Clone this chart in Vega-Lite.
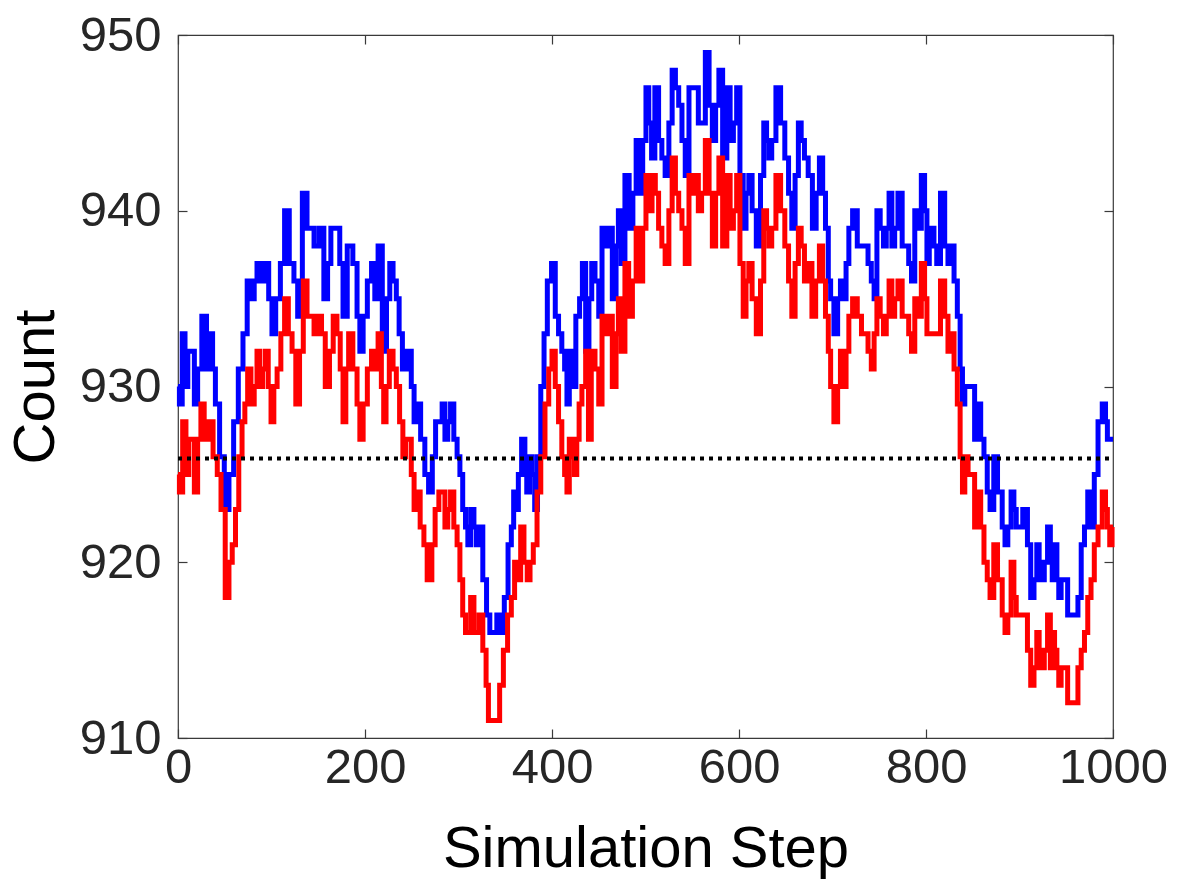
{
  "$schema": "https://vega.github.io/schema/vega-lite/v6.json",
  "width": 935,
  "height": 703,
  "autosize": "none",
  "padding": {"left": 178, "top": 35, "right": 64, "bottom": 146},
  "background": "white",
  "config": {
    "view": {"stroke": "#3a3a3a", "strokeWidth": 1.2},
    "axis": {
      "domain": false,
      "grid": false,
      "labelFlush": false,
      "labelOverlap": false,
      "tickColor": "#3a3a3a",
      "tickWidth": 1.2,
      "tickSize": -9,
      "labelFont": "Liberation Sans",
      "labelFontSize": 49,
      "labelColor": "#262626",
      "titleFont": "Liberation Sans",
      "titleFontSize": 58,
      "titleFontWeight": "normal",
      "titleColor": "#000000"
    }
  },
  "datasets": {
    "blue": [[0,930],[3,929],[6,933],[9,930],[12,932],[16,932],[19,929],[23,931],[28,934],[33,931],[36,933],[38,931],[42,929],[47,926],[52,923],[57,925],[62,928],[67,931],[72,933],[76,936],[80,935],[83,936],[86,937],[91,936],[95,937],[99,935],[102,933],[107,935],[112,937],[116,940],[122,937],[126,936],[130,934],[136,941],[140,939],[143,939],[148,938],[154,939],[158,935],[162,937],[165,939],[171,939],[175,937],[178,934],[184,938],[190,937],[193,934],[196,932],[200,934],[205,936],[209,937],[212,935],[216,938],[221,932],[225,935],[228,937],[232,936],[235,935],[238,933],[242,931],[248,932],[251,930],[254,928],[257,929],[262,927],[266,925],[270,924],[274,926],[277,928],[281,928],[284,929],[287,927],[290,928],[293,929],[297,927],[300,926],[303,925],[306,923],[309,922],[311,921],[315,923],[318,922],[320,921],[324,922],[328,919],[332,917],[335,916],[339,916],[343,917],[347,916],[351,918],[355,921],[358,922],[360,924],[363,923],[365,925],[370,927],[372,925],[374,924],[378,926],[380,925],[383,923],[386,926],[390,930],[393,933],[397,936],[402,937],[405,934],[409,933],[412,932],[415,931],[417,929],[420,932],[423,930],[428,934],[431,935],[434,937],[438,932],[441,935],[444,937],[448,936],[452,934],[455,939],[459,938],[462,939],[467,935],[470,938],[472,940],[476,937],[480,942],[485,939],[488,941],[492,944],[495,941],[499,944],[502,947],[505,945],[508,943],[512,947],[516,944],[519,943],[523,942],[527,945],[530,948],[534,947],[537,946],[541,944],[544,942],[549,947],[555,947],[558,945],[562,945],[566,949],[570,946],[573,944],[577,946],[580,948],[585,943],[589,947],[592,944],[596,945],[599,947],[603,942],[606,939],[609,941],[612,942],[616,940],[621,938],[625,942],[628,945],[631,944],[633,943],[637,944],[642,947],[647,945],[651,943],[655,941],[658,939],[662,942],[665,945],[668,944],[672,943],[676,942],[681,939],[684,941],[688,943],[691,941],[694,939],[697,936],[699,935],[704,933],[707,935],[710,936],[713,935],[716,937],[719,939],[724,940],[729,938],[733,938],[736,938],[740,937],[743,936],[746,935],[749,940],[753,939],[756,938],[759,939],[762,941],[765,938],[768,939],[772,941],[777,938],[780,938],[783,937],[786,936],[790,940],[793,939],[797,942],[800,940],[802,937],[805,938],[807,939],[810,938],[813,937],[818,941],[822,938],[825,937],[828,938],[832,936],[835,934],[838,931],[840,929],[843,930],[847,930],[850,930],[854,927],[857,929],[860,927],[864,926],[867,924],[870,923],[875,926],[878,924],[880,924],[883,922],[886,921],[889,922],[893,924],[895,923],[898,922],[902,922],[905,923],[907,923],[910,921],[914,918],[917,919],[920,921],[922,920],[925,919],[928,920],[932,922],[934,920],[936,919],[939,921],[941,919],[943,918],[946,919],[950,919],[953,917],[957,917],[961,917],[964,918],[968,921],[971,922],[975,924],[978,922],[982,925],[986,928],[991,929],[993,928],[995,927],[1000,927]],
    "red": [[0,925],[3,924],[7,928],[10,925],[13,927],[16,927],[19,924],[23,927],[26,929],[30,927],[35,928],[40,926],[44,925],[48,923],[53,918],[56,920],[60,921],[63,923],[67,926],[70,928],[73,929],[76,931],[80,929],[83,930],[86,932],[89,930],[92,931],[95,932],[98,930],[101,928],[104,930],[108,931],[112,933],[116,935],[120,933],[124,932],[128,929],[132,932],[136,936],[140,934],[143,934],[148,933],[152,934],[155,933],[160,930],[164,932],[168,934],[172,933],[175,931],[178,928],[181,931],[184,933],[190,931],[193,929],[196,927],[200,929],[205,931],[209,932],[212,931],[216,933],[219,930],[221,928],[224,930],[228,932],[232,931],[235,930],[239,928],[242,926],[245,927],[248,927],[251,925],[254,923],[257,924],[261,922],[265,921],[268,919],[270,919],[273,921],[277,923],[281,924],[284,924],[287,922],[290,923],[293,924],[297,922],[300,921],[303,919],[306,917],[309,916],[311,916],[315,918],[318,916],[320,916],[324,917],[328,915],[331,913],[333,911],[337,911],[342,911],[346,913],[350,915],[355,917],[358,918],[362,920],[365,919],[368,922],[372,920],[375,919],[378,920],[382,921],[386,924],[390,926],[395,929],[398,931],[402,932],[405,930],[409,928],[412,926],[415,925],[417,924],[420,927],[423,926],[425,925],[428,927],[430,929],[434,930],[438,932],[440,927],[444,932],[448,931],[452,929],[455,934],[459,933],[462,934],[467,930],[470,933],[472,935],[476,932],[480,937],[484,934],[488,936],[492,939],[495,936],[499,939],[502,942],[505,940],[509,942],[512,941],[516,939],[519,938],[523,937],[527,940],[530,943],[534,941],[537,940],[541,939],[544,937],[549,942],[553,941],[555,942],[558,940],[562,941],[566,944],[570,941],[573,938],[577,941],[580,943],[585,938],[589,942],[592,939],[596,940],[599,942],[603,937],[606,934],[609,936],[612,937],[616,935],[621,933],[625,936],[628,940],[631,939],[633,938],[637,939],[642,942],[647,940],[651,938],[655,936],[658,934],[662,937],[665,939],[668,938],[672,936],[676,937],[680,934],[684,936],[688,938],[691,936],[694,934],[697,932],[699,930],[704,928],[707,930],[710,932],[713,930],[716,932],[719,934],[724,935],[729,934],[733,933],[736,933],[740,932],[743,931],[746,933],[749,935],[753,934],[756,933],[759,934],[762,936],[765,934],[768,935],[772,936],[777,934],[780,934],[783,933],[786,932],[790,935],[793,934],[797,937],[800,935],[802,933],[805,933],[810,933],[813,933],[818,936],[822,934],[825,932],[828,933],[832,931],[835,929],[838,926],[840,924],[843,926],[847,925],[850,925],[854,922],[857,924],[860,922],[864,920],[867,919],[870,918],[875,921],[878,919],[880,919],[883,917],[886,916],[889,917],[893,920],[895,918],[898,917],[902,917],[905,917],[907,917],[910,915],[914,913],[917,914],[920,916],[922,915],[925,914],[928,915],[932,917],[934,914],[936,916],[939,915],[941,914],[943,913],[946,914],[950,914],[953,912],[957,912],[961,912],[964,914],[968,915],[971,916],[975,918],[978,919],[982,921],[986,922],[991,924],[993,923],[995,922],[998,921],[1000,922]]
  },
  "layer": [
    {
      "data": {"name": "blue"},
      "transform": [{"calculate": "datum[0]", "as": "step"}, {"calculate": "datum[1]", "as": "count"}],
      "mark": {"type": "line", "interpolate": "step", "color": "#0000ff", "strokeWidth": 5, "strokeJoin": "miter"},
      "encoding": {
        "x": {"field": "step", "type": "quantitative", "scale": {"domain": [0, 1000], "nice": false},
              "axis": {"orient": "bottom", "values": [0, 200, 400, 600, 800, 1000], "format": "d", "title": "Simulation Step", "labelPadding": 14, "titlePadding": 28}},
        "y": {"field": "count", "type": "quantitative", "scale": {"domain": [910, 950], "nice": false, "zero": false},
              "axis": {"orient": "left", "values": [910, 920, 930, 940, 950], "format": "d", "title": "Count", "labelPadding": 26, "titlePadding": 14}}
      }
    },
    {
      "data": {"name": "red"},
      "transform": [{"calculate": "datum[0]", "as": "step"}, {"calculate": "datum[1]", "as": "count"}],
      "mark": {"type": "line", "interpolate": "step", "color": "#ff0000", "strokeWidth": 5, "strokeJoin": "miter"},
      "encoding": {
        "x": {"field": "step", "type": "quantitative", "axis": null},
        "y": {"field": "count", "type": "quantitative", "axis": null}
      }
    },
    {
      "data": {"values": [{"level": 925.9}]},
      "mark": {"type": "rule", "color": "#000000", "strokeWidth": 4, "strokeDash": [4, 5]},
      "encoding": {
        "x": {"datum": 0, "type": "quantitative", "axis": {"orient": "top", "labels": false, "title": null, "values": [0, 200, 400, 600, 800, 1000]}},
        "x2": {"datum": 1000},
        "y": {"field": "level", "type": "quantitative", "axis": {"orient": "right", "labels": false, "title": null, "values": [910, 920, 930, 940, 950]}}
      }
    }
  ],
  "resolve": {"axis": {"x": "independent", "y": "independent"}}
}
